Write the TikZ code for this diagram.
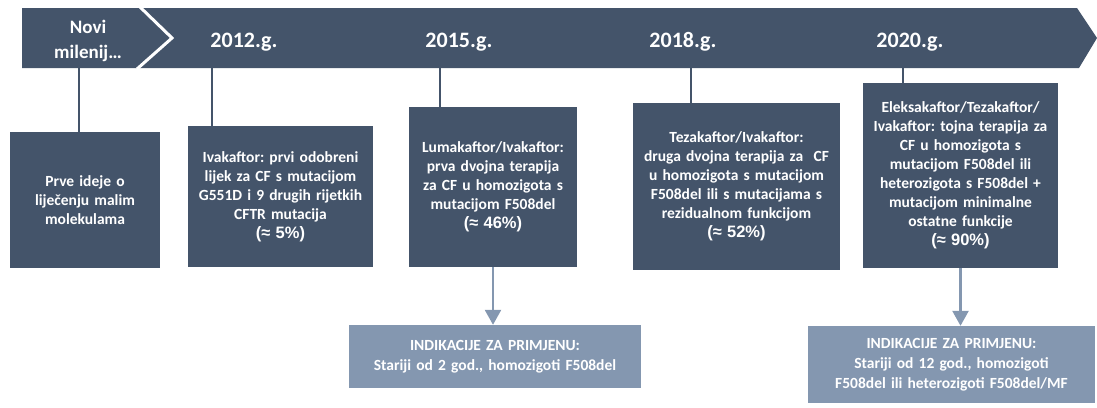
\documentclass[tikz,border=0pt]{standalone}
\usepackage{fontspec}
\setmainfont{Carlito}
\newfontfamily\pctfont{Liberation Sans}
\usetikzlibrary{arrows.meta}
\definecolor{slate}{HTML}{44546A}
\definecolor{steel}{HTML}{8497B0}
\frenchspacing

\tikzstyle{stage}=[rectangle,fill=slate,text=white,align=center,inner sep=0pt,font=\bfseries\fontsize{15.5}{19}\selectfont]
\tikzstyle{indication}=[rectangle,fill=steel,text=white,align=center,inner sep=0pt,font=\bfseries\fontsize{15.5}{20}\selectfont]
\tikzstyle{year}=[text=white,anchor=base,font=\bfseries\fontsize{22}{24}\selectfont]
\tikzstyle{tick}=[draw=slate,line width=2pt]
\tikzstyle{pointer}=[draw=steel,line width=2.5pt,-{Triangle[width=16pt,length=15pt]}]
\newcommand{\pct}[1]{{\pctfont\bfseries\fontsize{16.5}{20}\selectfont(≈ #1\%)}}

\begin{document}
\begin{tikzpicture}[x=1pt,y=-1pt]
			\useasboundingbox (0,0) rectangle (1097,407);
			% the time banner
			\fill[slate] (22,8) -- (1077,8) -- (1097,38) -- (1079,68) -- (22,68) -- cycle;
			\draw[white,line width=3pt] (140,7) -- (172,38) -- (137,69);
			\node[text=white,align=center,font=\bfseries\fontsize{19}{25}\selectfont] (start) at (88,41) {Novi\\milenij…};
			\node[year] (y2012) at (244,47) {2012.g.};
			\node[year] (y2015) at (459,47) {2015.g.};
			\node[year] (y2018) at (683,47) {2018.g.};
			\node[year] (y2020) at (910,47) {2020.g.};
			\foreach \name/\x in {m0/79, m1/212, m2/440, m3/691, m4/903}
				\coordinate (\name) at (\x,68);
			% the stages
			\node[stage,minimum width=150pt,minimum height=136pt,text width=144pt] (box1) at (85,200)
				{Prve ideje o\\liječenju malim\\molekulama};
			\node[stage,minimum width=185pt,minimum height=141pt,text width=180pt] (box2) at (280.5,196.5)
				{Ivakaftor: prvi odobreni\\lijek za CF s mutacijom\\G551D i 9 drugih rijetkih\\CFTR mutacija\\\pct{5}};
			\node[stage,minimum width=168pt,minimum height=160pt,text width=164pt] (box3) at (493,187)
				{Lumakaftor/Ivakaftor:\\prva dvojna terapija\\za CF u homozigota s\\mutacijom F508del\\\pct{46}};
			\node[stage,minimum width=207pt,minimum height=167pt,text width=202pt] (box4) at (736.5,186.5)
				{Tezakaftor/Ivakaftor:\\druga dvojna terapija za\ \ CF\\u homozigota s mutacijom\\F508del ili s mutacijama s\\rezidualnom funkcijom\\\pct{52}};
			\node[stage,minimum width=195pt,minimum height=185pt,text width=190pt] (box5) at (960.5,175.5)
				{Eleksakaftor/Tezakaftor/\\Ivakaftor: tojna terapija za\\CF u homozigota s\\mutacijom F508del ili\\heterozigota s F508del +\\mutacijom minimalne\\ostatne funkcije\\\pct{90}};
			% the indications
			\node[indication,minimum width=292pt,minimum height=63pt,text width=286pt] (ind1) at (495,356.5)
				{INDIKACIJE ZA PRIMJENU:\\Stariji od 2 god., homozigoti F508del};
			\node[indication,minimum width=287pt,minimum height=77pt,text width=281pt] (ind2) at (951.5,364.5)
				{INDIKACIJE ZA PRIMJENU:\\Stariji od 12 god., homozigoti\\F508del ili heterozigoti F508del/MF};
			% connect banner with stages
			\foreach \source/ \dest in {m0/box1, m1/box2, m2/box3, m3/box4, m4/box5}
				\path[tick] (\source) -- (\source |- \dest.north);
			\path[pointer] (box3.south) -- (box3.south |- ind1.north);
			\path[pointer] (box5.south) -- (box5.south |- ind2.north);
		\end{tikzpicture}
\end{document}
